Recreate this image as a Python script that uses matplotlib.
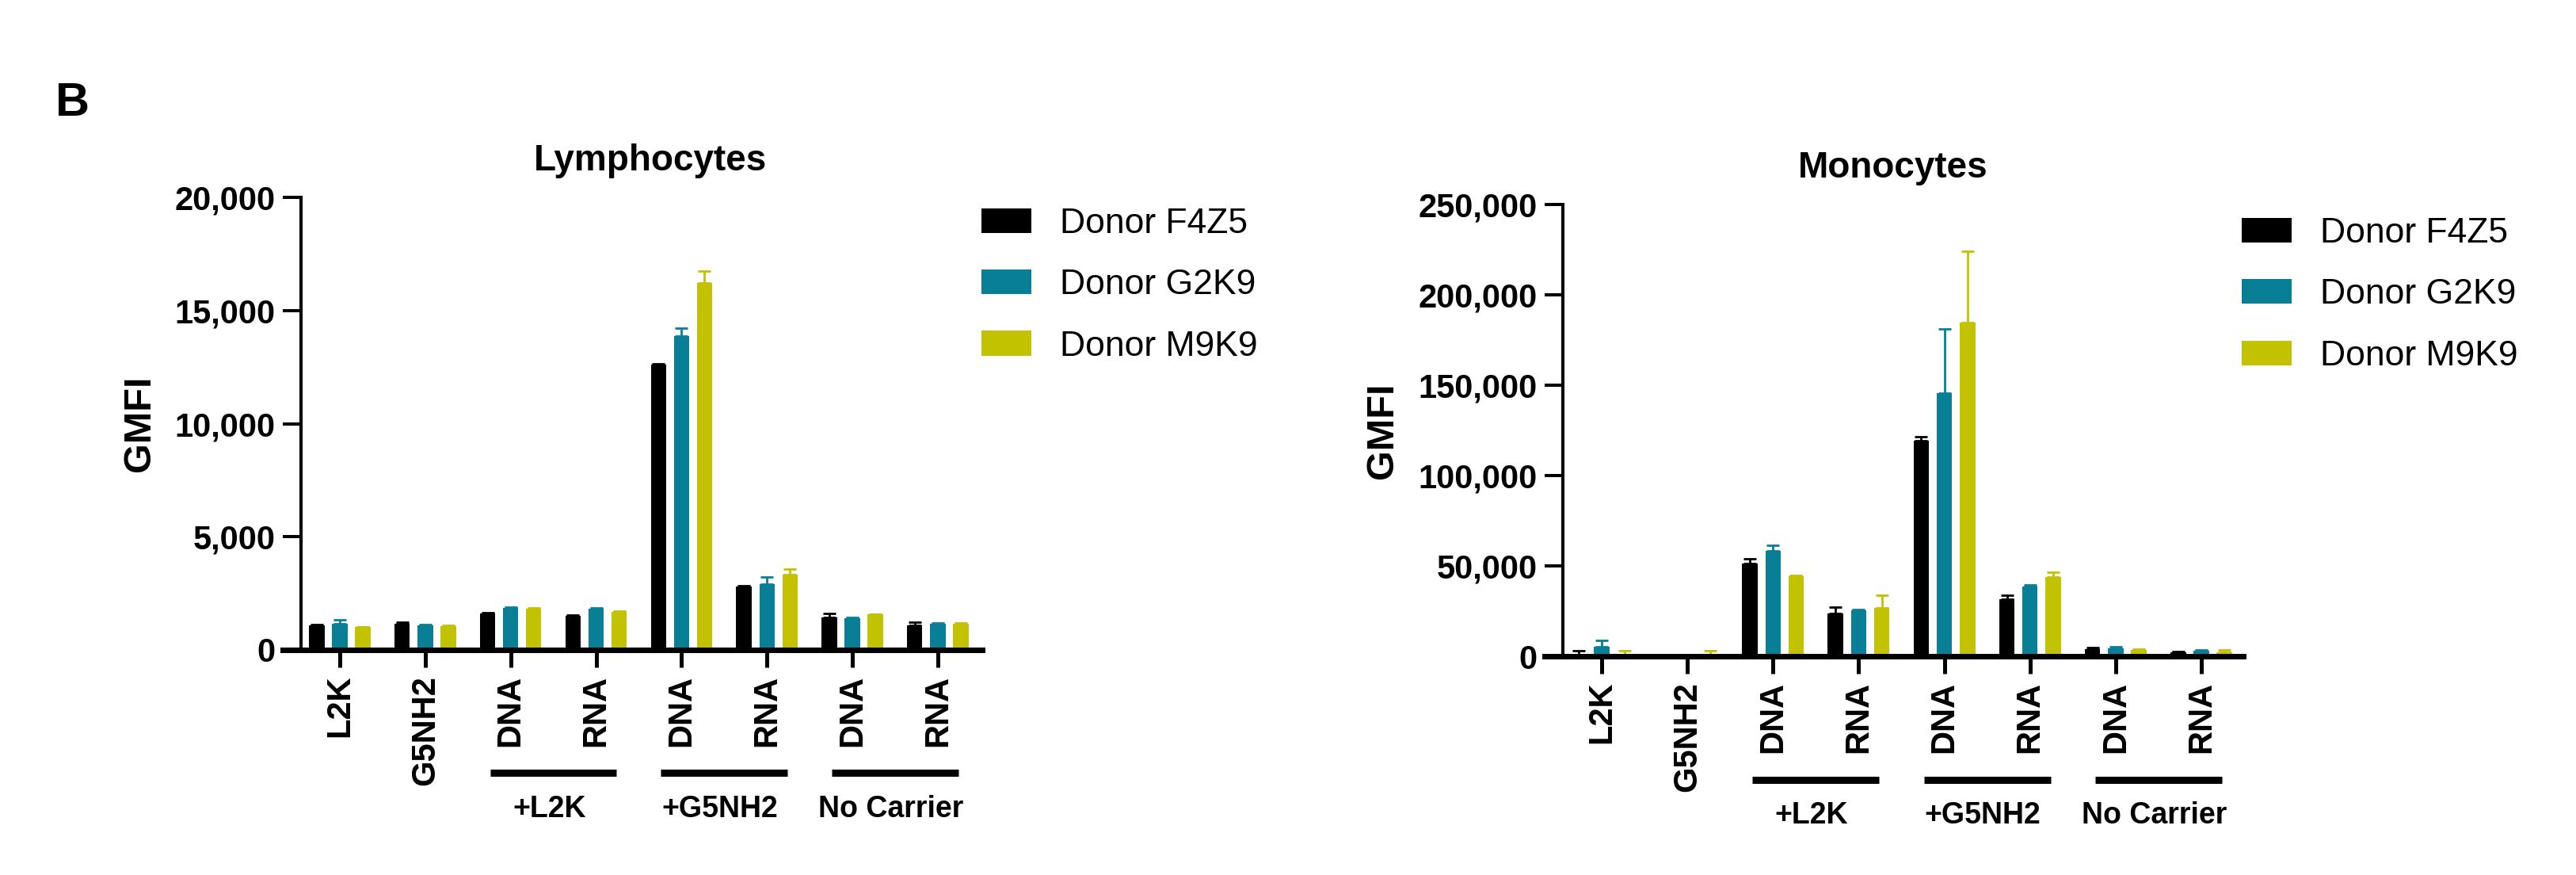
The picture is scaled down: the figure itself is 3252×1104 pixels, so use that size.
import numpy as np
import matplotlib
matplotlib.use('Agg')
import matplotlib.pyplot as plt
from matplotlib.ticker import FuncFormatter

plt.rcParams['font.family'] = 'Liberation Sans'
plt.rcParams['font.weight'] = 'bold'

categories = ['L2K', 'G5NH2', 'DNA', 'RNA', 'DNA', 'RNA', 'DNA', 'RNA']
groups = ['+L2K', '+G5NH2', 'No Carrier']
donors = ['Donor F4Z5', 'Donor G2K9', 'Donor M9K9']
colors = ['#000000', '#087F96', '#C2C200']

# Lymphocytes GMFI (mean, upper SD)
lymph_f4z5 = [1100, 1140, 1610, 1510, 12600, 2800, 1430, 1100]
lymph_g2k9 = [1140, 1090, 1870, 1820, 13860, 2920, 1390, 1170]
lymph_m9k9 = [1000, 1050, 1820, 1680, 16200, 3340, 1560, 1170]
lymph_f4z5_err = [30, 85, 30, 40, 60, 40, 190, 120]
lymph_g2k9_err = [200, 30, 30, 40, 370, 300, 40, 30]
lymph_m9k9_err = [20, 20, 30, 30, 540, 250, 30, 30]

# Monocytes GMFI
mono_f4z5 = [400, 200, 51100, 23900, 119300, 31700, 3900, 2000]
mono_g2k9 = [5300, 200, 58200, 25500, 145400, 38600, 4300, 2900]
mono_m9k9 = [500, 400, 44500, 26600, 184500, 43900, 3700, 2300]
mono_f4z5_err = [2500, 0, 2700, 3300, 2000, 2000, 1000, 600]
mono_g2k9_err = [3500, 0, 3300, 300, 35800, 800, 800, 800]
mono_m9k9_err = [2400, 2500, 300, 7000, 39600, 2500, 200, 1000]


def draw_panel(ax, series, errors, title, ymax, ystep, xlim, title_x, ylabel_x,
               leg_anchor, line_y, text_y):
    x = np.arange(len(categories))
    offsets = [-0.27, 0, 0.27]
    handles = []
    for vals, errs, off, c, lab in zip(series, errors, offsets, colors, donors):
        b = ax.bar(x + off, vals, width=0.18, color=c, label=lab,
                   yerr=[np.zeros(len(errs)), errs],
                   error_kw=dict(ecolor=c, elinewidth=2, capsize=6, capthick=2))
        handles.append(b)

    ax.set_xlim(xlim)
    ax.set_ylim(0, ymax)
    ax.set_yticks(np.arange(0, ymax + 1, ystep))
    ax.yaxis.set_major_formatter(FuncFormatter(lambda v, p: f'{int(v):,}'))
    ax.set_xticks(x, categories, rotation=90)

    ax.spines['top'].set_visible(False)
    ax.spines['right'].set_visible(False)
    ax.spines['left'].set_linewidth(2.9)
    ax.spines['bottom'].set_linewidth(5)
    ax.spines['bottom'].set_bounds(xlim[0] - 0.21, xlim[1])
    ax.tick_params(axis='y', width=2.9, length=16.5, pad=7, labelsize=30)
    ax.tick_params(axis='x', width=3.6, length=16, pad=7, labelsize=30)

    ax.set_ylabel('GMFI', fontsize=35, fontweight='bold')
    ax.yaxis.set_label_coords(ylabel_x, 0.5)
    ax.text(title_x, 1.06, title, transform=ax.transAxes, ha='center',
            va='baseline', fontsize=33, fontweight='bold')

    trans = ax.get_xaxis_transform()
    for i, g in enumerate(groups):
        mid = 2 + 2 * i + 0.5
        ax.plot([mid - 0.74, mid + 0.74], [line_y, line_y], transform=trans,
                color='k', lw=6.5, clip_on=False, solid_capstyle='butt')
        ax.text(mid - 0.05, text_y, g, transform=trans, ha='center', va='center',
                fontsize=27, fontweight='bold')

    ax.legend(handles=handles, labels=donors, loc='upper left',
              bbox_to_anchor=leg_anchor, bbox_transform=ax.figure.transFigure,
              frameon=False, prop={'size': 32, 'weight': 'normal'},
              handlelength=1.42, handleheight=0.7, handletextpad=0.8,
              labelspacing=0.82, borderpad=0, borderaxespad=0)


fig = plt.figure(figsize=(32.52, 11.04), dpi=100)
ax1 = fig.add_axes([0.11685, 0.25725, 0.26445, 0.5172])
ax2 = fig.add_axes([0.6067, 0.25, 0.26415, 0.5163])

draw_panel(ax1, [lymph_f4z5, lymph_g2k9, lymph_m9k9],
           [lymph_f4z5_err, lymph_g2k9_err, lymph_m9k9_err],
           'Lymphocytes', 20000, 5000, (-0.454, 7.52), 0.513, -0.21,
           (0.381, 0.763), -0.2715, -0.352)
draw_panel(ax2, [mono_f4z5, mono_g2k9, mono_m9k9],
           [mono_f4z5_err, mono_g2k9_err, mono_m9k9_err],
           'Monocytes', 250000, 50000, (-0.453, 7.49), 0.485, -0.239,
           (0.8702, 0.752), -0.274, -0.3526)

fig.text(70 / 3252, 1 - 131 / 1104, 'B', fontsize=43, fontweight='bold', va='center')

fig.savefig('out.png', dpi=100)
